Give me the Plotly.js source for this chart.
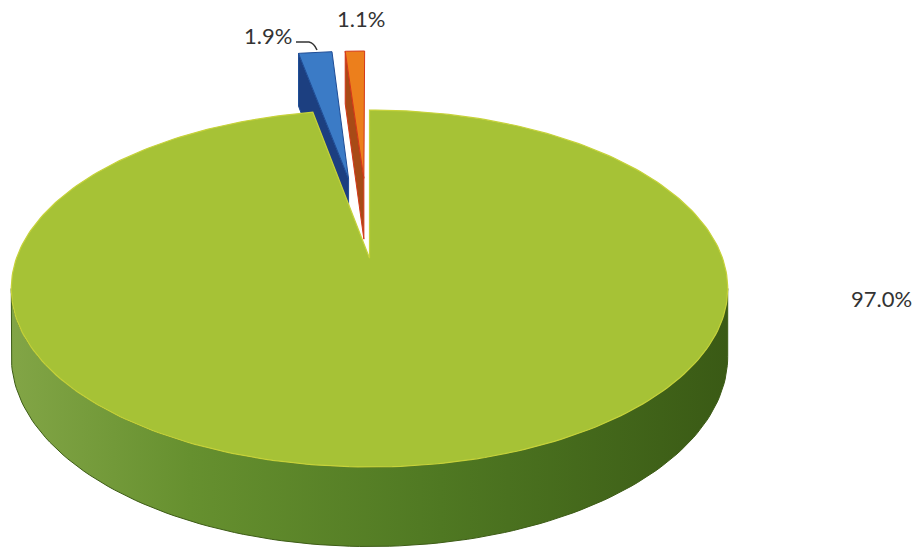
<!DOCTYPE html>
<html><head><meta charset="utf-8">
<script src="https://cdn.plot.ly/plotly-3.0.1.min.js"></script>
<style>html,body{margin:0;padding:0;background:#fff}#chart{width:923px;height:551px}</style>
</head><body><div id="chart"></div>
<script>
// ---- data ----
const categories = ['A', 'B', 'C'];
const values = [97.0, 1.9, 1.1];
const explode = [0, 0.5, 0.5];
// ---- styles ----
const topColors = ['#a6c236', '#3b7bc6', '#ec7f1c'];
const sideColors = ['#5c862a', '#1c3f80', '#a84a16'];
const edgeColors = ['#c6d23a', '#1f4d96', '#d4381a'];

// ---- 3D pie projection (layout geometry) ----
const CX = 369.5, CY = 288.5, KX = 353, RY = 178.5, C = -0.17, B = -0.17, H = 66;
function proj(u, v) { const d = 1 + C * v; return [CX + KX * u / d, CY + RY * (v + B) / d, H / d]; }
const rad = a => a * Math.PI / 180;

const total = values.reduce((s, v) => s + v, 0);
const slices = [];
let acc = 0;
values.forEach((v, i) => {
  const a0 = acc / total * 360, a1 = (acc + v) / total * 360;
  acc += v;
  const mid = rad((a0 + a1) / 2);
  slices.push({i, a0, a1, eu: explode[i] * Math.sin(mid), ev: -explode[i] * Math.cos(mid)});
});

function arcPts(s, from, to, n) {
  const pts = [];
  for (let k = 0; k <= n; k++) {
    const t = rad(from + (to - from) * k / n);
    pts.push(proj(s.eu + Math.sin(t), s.ev - Math.cos(t)));
  }
  return pts;
}

function poly(pts, fill, line, width, extra) {
  return Object.assign({
    type: 'scatter', mode: 'lines', fill: 'toself', fillcolor: fill,
    x: pts.map(p => p[0]), y: pts.map(p => p[1]),
    line: {color: line, width: width}, hoverinfo: 'skip', showlegend: false
  }, extra || {});
}

const traces = [];
// exploded (back) slices first
slices.filter(s => explode[s.i] > 0).forEach(s => {
  const apex = proj(s.eu, s.ev);
  const outer = proj(s.eu + Math.sin(rad(s.a0)), s.ev - Math.cos(rad(s.a0)));
  const face = [apex, outer, [outer[0], outer[1] + outer[2]], [apex[0], apex[1] + apex[2]], apex];
  traces.push(poly(face, sideColors[s.i], edgeColors[s.i], 1));
  const top = [apex].concat(arcPts(s, s.a0, s.a1, 20)).concat([apex]);
  traces.push(poly(top, topColors[s.i], edgeColors[s.i], 1));
});
// main slice
slices.filter(s => explode[s.i] === 0).forEach(s => {
  const tR = Math.acos(-0.17) * 180 / Math.PI, tL = 360 - tR;
  const topArc = arcPts(s, tR, tL, 120);
  const botArc = topArc.map(p => [p[0], p[1] + p[2]]).reverse();
  const side = topArc.concat(botArc).concat([topArc[0]]);
  traces.push(poly(side, sideColors[s.i], '#3d5c16', 1, {
    fillgradient: {type: 'horizontal', colorscale: [[0, '#82a546'], [0.25, '#66902f'], [0.6, '#4f7822'], [1, '#3a5a15']]}
  }));
  const apex = proj(s.eu, s.ev);
  const top = [apex].concat(arcPts(s, s.a0, s.a1, 300)).concat([apex]);
  traces.push(poly(top, topColors[s.i], edgeColors[s.i], 1.2));
});

const pctText = values.map(v => v.toFixed(1) + '%');
const font = {family: 'Lato, "Open Sans", sans-serif', size: 22, color: '#333333'};
const layout = {
  width: 923, height: 551,
  margin: {l: 0, r: 0, t: 0, b: 0},
  paper_bgcolor: '#ffffff', plot_bgcolor: '#ffffff',
  showlegend: false,
  xaxis: {range: [0, 923], visible: false, fixedrange: true},
  yaxis: {range: [551, 0], visible: false, fixedrange: true},
  annotations: [
    {x: 881, y: 298, text: pctText[0], showarrow: false, font: font, xanchor: 'center', yanchor: 'middle'},
    {x: 268, y: 35, text: pctText[1], showarrow: false, font: font, xanchor: 'center', yanchor: 'middle'},
    {x: 361, y: 18, text: pctText[2], showarrow: false, font: font, xanchor: 'center', yanchor: 'middle'}
  ],
  shapes: [
    {type: 'path', path: 'M 296 42 L 309 42 Q 314 43 317 50', line: {color: '#333333', width: 1.5}}
  ]
};
Plotly.newPlot('chart', traces, layout, {staticPlot: true, displayModeBar: false});
</script></body></html>
